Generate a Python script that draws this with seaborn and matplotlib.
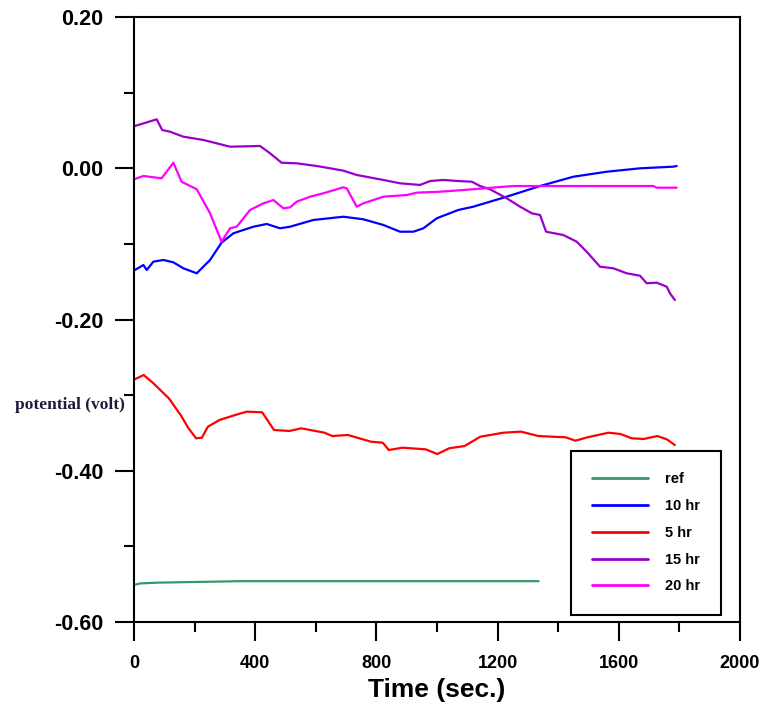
import numpy as np
import pandas as pd
import matplotlib
matplotlib.use("Agg")
import matplotlib.pyplot as plt
import seaborn as sns

# ---------------- data ----------------
ref_t = [0, 20, 75, 350, 1335]
ref_v = [-0.551, -0.549, -0.548, -0.546, -0.546]

h10_t = [3, 31, 42, 64, 97, 130, 163, 207, 251, 289, 328, 394, 438, 482, 515, 592, 691,
         757, 823, 878, 922, 955, 999, 1070, 1120, 1230, 1340, 1450, 1560, 1670, 1780, 1791]
h10_v = [-0.1345, -0.128, -0.1345, -0.1235, -0.1213, -0.1244, -0.1323, -0.1389, -0.1213,
         -0.0984, -0.086, -0.0773, -0.0737, -0.0794, -0.0773, -0.0684, -0.0641, -0.0675,
         -0.075, -0.0839, -0.0839, -0.0794, -0.0662, -0.0552, -0.0508, -0.0376, -0.0235,
         -0.0112, -0.0046, -0.0001, 0.0021, 0.003]

h5_t = [2, 32, 64, 115, 154, 180, 205, 224, 244, 282, 334, 372, 423, 462, 513, 552, 629,
        654, 706, 782, 821, 841, 886, 963, 1001, 1040, 1091, 1143, 1219, 1277, 1335, 1425,
        1457, 1496, 1566, 1605, 1643, 1682, 1727, 1759, 1785]
h5_v = [-0.2791, -0.2734, -0.2844, -0.3042, -0.3263, -0.3439, -0.3571, -0.3563, -0.3417,
        -0.3329, -0.3263, -0.3219, -0.3227, -0.3461, -0.3474, -0.3439, -0.3497, -0.3541,
        -0.3527, -0.3616, -0.3629, -0.3726, -0.3695, -0.3717, -0.3779, -0.3703, -0.3673,
        -0.355, -0.3497, -0.3483, -0.3541, -0.3558, -0.3603, -0.3558, -0.3497, -0.3514,
        -0.3571, -0.358, -0.3541, -0.3585, -0.366]

h15_t = [3, 75, 93, 119, 163, 229, 317, 416, 449, 487, 537, 603, 691, 735, 823, 878, 944,
         977, 1021, 1070, 1115, 1142, 1175, 1230, 1274, 1313, 1340, 1360, 1417, 1461, 1494,
         1538, 1582, 1626, 1670, 1692, 1725, 1758, 1769, 1785]
h15_v = [0.0559, 0.0647, 0.0506, 0.0483, 0.0417, 0.0374, 0.0285, 0.0294, 0.0198, 0.0073,
         0.0065, 0.003, -0.0032, -0.0089, -0.0155, -0.0199, -0.0221, -0.0169, -0.0155,
         -0.0169, -0.0178, -0.0235, -0.0278, -0.0397, -0.0508, -0.0596, -0.0618, -0.0839,
         -0.0883, -0.0971, -0.1104, -0.1302, -0.1323, -0.1389, -0.1421, -0.1521, -0.1513,
         -0.1566, -0.1654, -0.1742]

h20_t = [3, 31, 91, 130, 157, 207, 251, 289, 317, 339, 383, 427, 460, 493, 515, 537, 581,
         625, 691, 702, 735, 757, 823, 900, 933, 1010, 1087, 1197, 1252, 1714, 1725, 1791]
h20_v = [-0.0142, -0.0102, -0.0133, 0.0073, -0.0178, -0.0278, -0.0596, -0.0971, -0.0794,
         -0.0773, -0.0552, -0.0464, -0.042, -0.053, -0.0517, -0.0442, -0.0376, -0.0331,
         -0.0252, -0.0265, -0.0508, -0.0464, -0.0376, -0.0354, -0.0323, -0.031, -0.0288,
         -0.0252, -0.0235, -0.0235, -0.0257, -0.0257]

series_names = ["ref", "10 hr", "5 hr", "15 hr", "20 hr"]
series_t = [ref_t, h10_t, h5_t, h15_t, h20_t]
series_v = [ref_v, h10_v, h5_v, h15_v, h20_v]
colors = ["#339966", "#0000ff", "#ff0000", "#9900cc", "#ff00ff"]

xticks = [0, 400, 800, 1200, 1600, 2000]
xtick_labels = ["0", "400", "800", "1200", "1600", "2000"]
yticks = [0.20, 0.00, -0.20, -0.40, -0.60]
ytick_labels = ["0.20", "0.00", "-0.20", "-0.40", "-0.60"]

# ---------------- build long table ----------------
frames = []
for name, t, v in zip(series_names, series_t, series_v):
    frames.append(pd.DataFrame({"time": t, "potential": v, "series": name}))
df = pd.concat(frames, ignore_index=True)

sns.set_style("white")
plt.rcParams["font.family"] = ["Liberation Sans", "DejaVu Sans"]
plt.rcParams["text.color"] = "black"
plt.rcParams["axes.labelcolor"] = "black"
plt.rcParams["xtick.color"] = "black"
plt.rcParams["ytick.color"] = "black"

fig = plt.figure(figsize=(7.66, 7.13), dpi=100)
ax = fig.add_axes([134 / 766, 1 - 622 / 713, (740 - 134) / 766, (622 - 17) / 713])

sns.lineplot(data=df, x="time", y="potential", hue="series", hue_order=series_names,
             palette=dict(zip(series_names, colors)), estimator=None, sort=False,
             linewidth=1.6, ax=ax)

ax.set_xlim(0, 2000)
ax.set_ylim(-0.60, 0.20)
ax.set_xticks(xticks)
ax.set_xticklabels(xtick_labels)
ax.set_yticks(yticks)
ax.set_yticklabels(ytick_labels)
ax.set_xticks([200, 600, 1000, 1400, 1800], minor=True)
ax.set_yticks([0.10, -0.10, -0.30, -0.50], minor=True)

for s in ax.spines.values():
    s.set_visible(True)
    s.set_color("black")
    s.set_linewidth(1.5)

ax.tick_params(axis="both", which="major", direction="out", length=14, width=1.5,
               color="black", labelcolor="black", bottom=True, left=True, top=False,
               right=False)
ax.tick_params(axis="both", which="minor", direction="out", length=7, width=1.5,
               color="black", bottom=True, left=True, top=False, right=False)
ax.tick_params(axis="y", which="major", pad=8)
ax.tick_params(axis="x", which="major", pad=10)
for lab in ax.get_yticklabels():
    lab.set_fontsize(15.5)
    lab.set_fontweight("bold")
for lab in ax.get_xticklabels():
    lab.set_fontsize(13)
    lab.set_fontweight("bold")

ax.set_xlabel("Time (sec.)", fontsize=19, fontweight="bold", labelpad=4, color="black")
ax.set_ylabel("")
fig.text(15 / 766, 1 - 405 / 713, "potential (volt)", ha="left", va="center",
         fontsize=12.5, fontweight="bold", family=["Liberation Serif", "DejaVu Serif"],
         color="#1c1c3a")

handles, labels = ax.get_legend_handles_labels()
ax.get_legend().remove()
leg = fig.legend(handles, labels, loc="upper left",
                 bbox_to_anchor=(571 / 766, 1 - 451 / 713), bbox_transform=fig.transFigure,
                 frameon=True, fancybox=False, framealpha=1, edgecolor="black",
                 prop={"weight": "bold", "size": 10.5}, handlelength=3.8, handletextpad=1.2,
                 labelspacing=0.88, borderpad=1.45, borderaxespad=0)
leg.get_frame().set_linewidth(1.5)
for lh in leg.get_lines():
    lh.set_linewidth(2)
for t in leg.get_texts():
    t.set_color("black")

fig.savefig("out.png", dpi=100)
